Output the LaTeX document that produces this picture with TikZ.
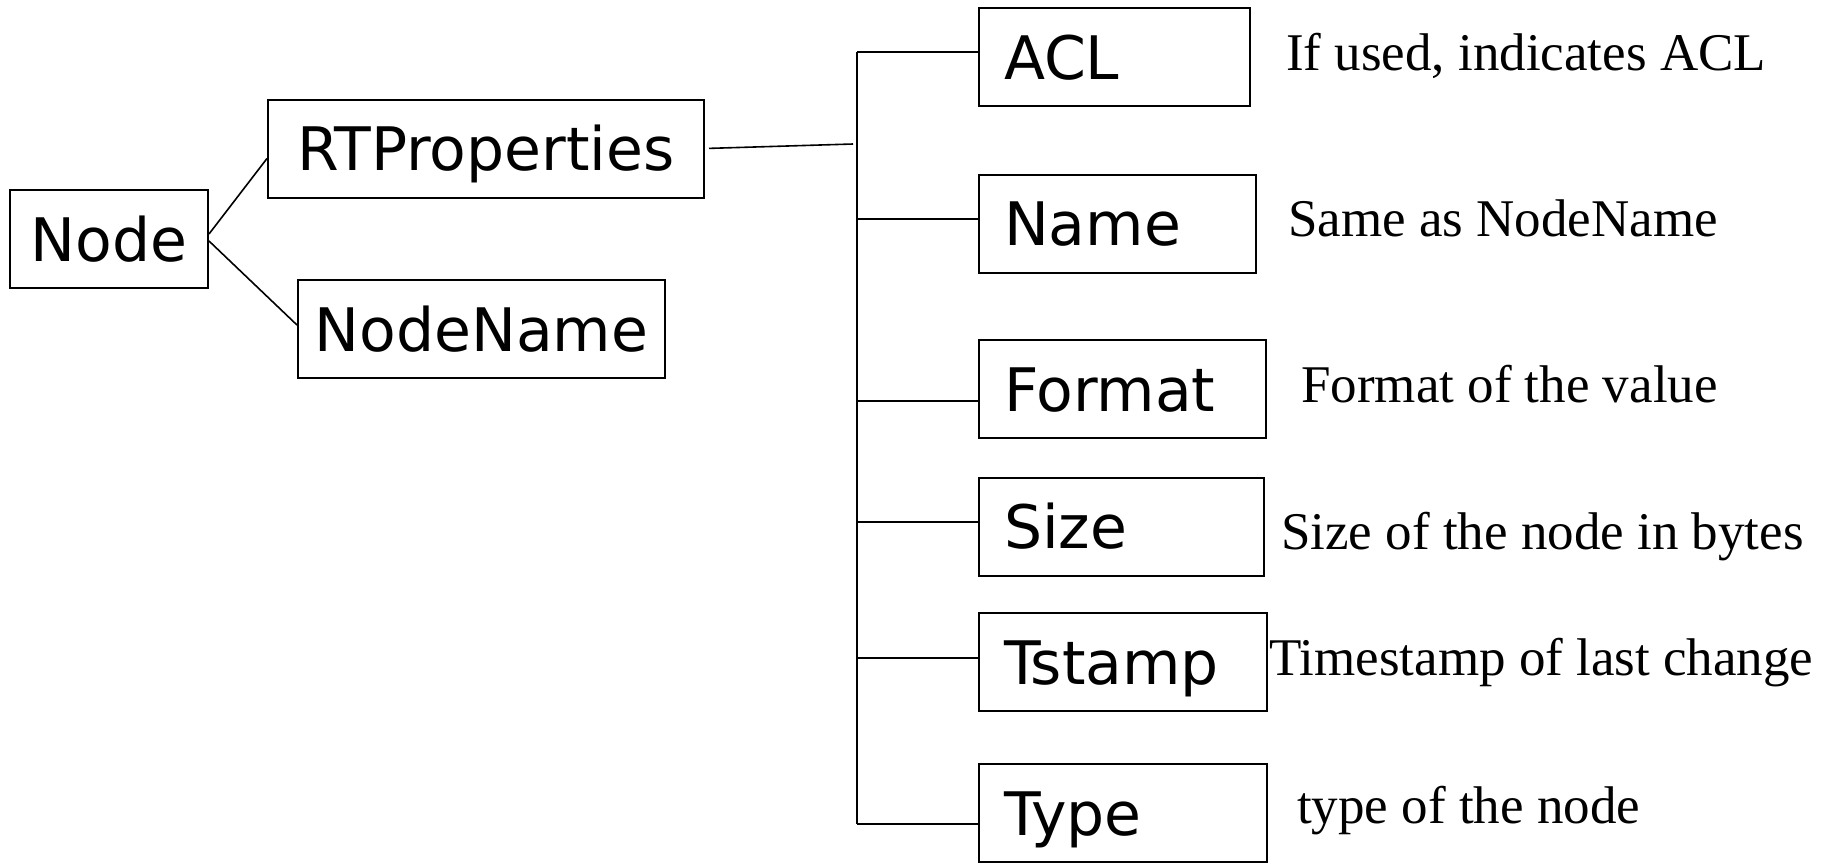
\documentclass[tikz,border=0pt]{standalone}
\usepackage{fontspec}
\setmainfont{Liberation Serif}
\newfontfamily\comic{DejaVu Sans}
\begin{document}
\begin{tikzpicture}[x=1pt,y=-1pt]
	\tikzstyle{boite}=[draw, line width=2pt, minimum height=98pt, inner sep=0pt, text height=44pt, text depth=0pt, font=\comic\fontsize{60}{70}\selectfont]
	\tikzstyle{champ}=[boite, anchor=west, inner xsep=25pt, align=left]
	\tikzstyle{texte}=[anchor=base west, inner sep=0pt, font=\fontsize{53}{60}\selectfont]
	\tikzstyle{trait}=[line width=1.6pt]
	\useasboundingbox (0,0) rectangle (1825,863);
	% arbre de gauche
	\node[boite, minimum width=198pt] (Node) at (109,239) {Node};
	\node[boite, minimum width=436pt] (RTProperties) at (486,148.5) {RTProperties};
	\node[boite, minimum width=367pt] (NodeName) at (481.5,329) {NodeName};
	\draw[trait] ([yshift=5pt]Node.east) -- ([yshift=-10pt]RTProperties.west);
	\draw[trait] ([yshift=-2pt]Node.east) -- ([yshift=4pt]NodeName.west);
	% champs
	\node[champ, text width=221pt] (ACL) at (978,57) {ACL};
	\node[champ, text width=227pt] (Name) at (978,223.5) {Name};
	\node[champ, text width=237pt] (Format) at (978,389) {Format};
	\node[champ, text width=235pt] (Size) at (978,526.5) {Size};
	\node[champ, text width=238pt] (Tstamp) at (978,662) {Tstamp};
	\node[champ, text width=238pt] (Type) at (978,813) {Type};
	\coordinate (jonction) at (853,144);
	\coordinate (haut) at (857,52);
	\coordinate (bas) at (857,824);
	\draw[trait, shorten <=4pt] (RTProperties.east) -- (jonction);
	\draw[trait] (haut) -- (bas);
	\foreach \n/\y in {ACL/52, Name/219, Format/401, Size/522, Tstamp/658, Type/824}
		\draw[trait] (haut |- 0,\y) -- (\n.west |- 0,\y);
	% descriptions
	\node[texte] (descACL) at (1286,70) {If used, indicates ACL};
	\node[texte] (descName) at (1288,236) {Same as NodeName};
	\node[texte] (descFormat) at (1301,402) {Format of the value};
	\node[texte] (descSize) at (1281,549) {Size of the node in bytes};
	\node[texte] (descTstamp) at (1269,675) {Timestamp of last change};
	\node[texte] (descType) at (1297,823) {type of the node};
\end{tikzpicture}
\end{document}
